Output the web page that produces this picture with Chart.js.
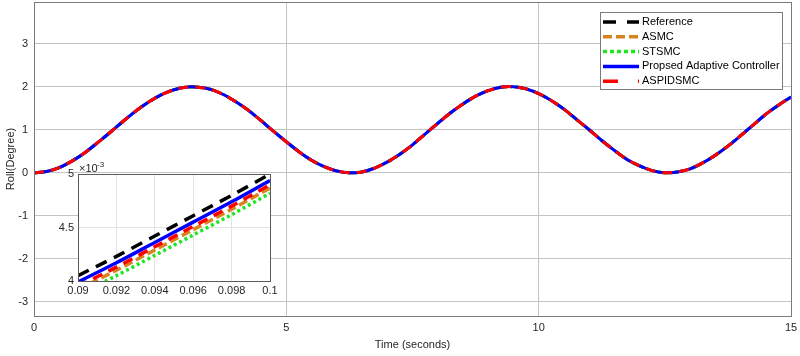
<!DOCTYPE html>
<html>
<head>
<meta charset="utf-8">
<script src="https://cdn.jsdelivr.net/npm/chart.js@4/dist/chart.umd.min.js"></script>
<style>
  body { margin: 0; background: #fff; }
  #wrap { position: relative; width: 800px; height: 356px; }
  #mainChart { position: absolute; left: 0; top: 0; }
  #insetChart { position: absolute; left: 48px; top: 162px; }
</style>
</head>
<body>
<div id="wrap">
  <canvas id="mainChart" width="800" height="356"></canvas>
  <canvas id="insetChart" width="240" height="138"></canvas>
</div>
<script>
// roll angle, every 0.25 s
var time = [0, 0.25, 0.5, 0.75, 1, 1.25, 1.5, 1.75, 2, 2.25, 2.5, 2.75, 3, 3.25, 3.5, 3.75,
    4, 4.25, 4.5, 4.75, 5, 5.25, 5.5, 5.75, 6, 6.25, 6.5, 6.75, 7, 7.25, 7.5, 7.75,
    8, 8.25, 8.5, 8.75, 9, 9.25, 9.5, 9.75, 10, 10.25, 10.5, 10.75, 11, 11.25, 11.5, 11.75,
    12, 12.25, 12.5, 12.75, 13, 13.25, 13.5, 13.75, 14, 14.25, 14.5, 14.75, 15];
var roll = [0, 0.03, 0.12, 0.27, 0.46, 0.69, 0.93, 1.18, 1.42, 1.63, 1.80, 1.92, 1.99, 1.99, 1.94, 1.82,
    1.65, 1.45, 1.21, 0.96, 0.72, 0.49, 0.29, 0.14, 0.04, 0.00, 0.02, 0.11, 0.25, 0.43, 0.65, 0.90,
    1.15, 1.39, 1.60, 1.78, 1.91, 1.99, 2.00, 1.95, 1.84, 1.68, 1.48, 1.24, 1.00, 0.75, 0.52, 0.31,
    0.16, 0.05, 0.00, 0.02, 0.09, 0.23, 0.41, 0.62, 0.86, 1.11, 1.36, 1.57, 1.76];

// zoomed window 0.09 .. 0.1 s, values in units of 1e-3 degree
var zoomTime = [0.09, 0.092, 0.094, 0.096, 0.098, 0.1];
var zoomRef = [4.05, 4.23, 4.42, 4.61, 4.80, 5.00];
var zoomASMC = [3.92, 4.10, 4.29, 4.48, 4.67, 4.87];
var zoomSTSMC = [3.87, 4.05, 4.24, 4.43, 4.62, 4.82];
var zoomProposed = [3.99, 4.17, 4.36, 4.55, 4.74, 4.94];
var zoomASPID = [3.95, 4.13, 4.32, 4.51, 4.70, 4.90];

var mainYTicks = [-3, -2, -1, 0, 1, 2, 3];
var zoomXTicks = [0.09, 0.092, 0.094, 0.096, 0.098, 0.1];
var zoomYTicks = [4, 4.5, 5];

var names = ['Reference', 'ASMC', 'STSMC', 'Propsed Adaptive Controller', 'ASPIDSMC'];
var colors = ['#000000', '#d9831f', '#1ee61e', '#0000ff', '#ff0000'];
var dashes = [[12, 8], [9, 4], [3, 3], [], [10, 7]];
var drawOrder = [4, 3, 2, 1, 0];

var font = { family: '"Liberation Sans", Arial, sans-serif', size: 11 };
var textColor = '#262626';

function pts(xs, ys) {
    return xs.map(function (x, i) { return { x: x, y: ys[i] }; });
}

function makeSets(series, xs, width) {
    return series.map(function (ys, i) {
        return {
            label: names[i],
            data: pts(xs, ys),
            borderColor: colors[i],
            borderWidth: width,
            borderDash: dashes[i],
            pointRadius: 0,
            tension: 0.3,
            fill: false,
            order: drawOrder[i]
        };
    });
}

function noPad(s) {
    s.paddingTop = 0; s.paddingBottom = 0; s.paddingLeft = 0; s.paddingRight = 0;
}

var whiteArea = {
    id: 'whiteArea',
    beforeDraw: function (chart) {
        var a = chart.chartArea, c = chart.ctx;
        c.save();
        c.fillStyle = '#fff';
        c.fillRect(a.left, a.top, a.right - a.left, a.bottom - a.top);
        c.restore();
    }
};

var boxLegend = {
    id: 'boxLegend',
    afterDraw: function (chart) {
        var c = chart.ctx;
        c.save();
        c.fillStyle = '#fff';
        c.fillRect(600, 12, 182, 77);
        c.strokeStyle = '#7a7a7a';
        c.lineWidth = 1;
        c.strokeRect(600.5, 12.5, 182, 77);
        var legDash = [[13, 11], [9, 4], [4, 3], [], [15, 20]];
        for (var i = 0; i < names.length; i++) {
            var y = 22 + i * 14.8;
            c.strokeStyle = colors[i];
            c.lineWidth = 3.5;
            c.setLineDash(legDash[i]);
            c.beginPath();
            c.moveTo(603, y);
            c.lineTo(639, y);
            c.stroke();
            c.setLineDash([]);
            c.fillStyle = '#000';
            c.font = '11px "Liberation Sans", Arial, sans-serif';
            c.textBaseline = 'middle';
            c.fillText(names[i], 642, y);
        }
        c.restore();
    }
};

new Chart(document.getElementById('mainChart'), {
    type: 'line',
    data: { datasets: makeSets([roll, roll, roll, roll, roll], time, 3) },
    options: {
        responsive: false,
        animation: false,
        layout: { padding: { top: 2, right: 9, left: 0, bottom: 0 } },
        plugins: { legend: { display: false }, tooltip: { enabled: false } },
        scales: {
            x: {
                type: 'linear', min: 0, max: 15,
                ticks: { stepSize: 5, font: font, color: textColor, padding: 5 },
                grid: { color: '#c4c4c4', drawTicks: false },
                border: { color: '#7a7a7a' },
                title: { display: true, text: 'Time (seconds)', font: font, color: textColor, padding: { top: 2, bottom: 4 } },
                afterFit: function (s) { s.height = 40; noPad(s); }
            },
            y: {
                min: -3.33, max: 3.97,
                afterBuildTicks: function (s) { s.ticks = mainYTicks.map(function (v) { return { value: v }; }); },
                ticks: { font: font, color: textColor, padding: 6 },
                grid: { color: '#c4c4c4', drawTicks: false },
                border: { color: '#7a7a7a' },
                title: { display: true, text: 'Roll(Degree)', font: font, color: textColor, padding: { top: 4, bottom: 4 } },
                afterFit: function (s) { s.width = 34; noPad(s); }
            }
        }
    },
    plugins: [whiteArea, boxLegend, {
        id: 'frame',
        afterDraw: function (chart) {
            var a = chart.chartArea, c = chart.ctx;
            c.save();
            c.strokeStyle = '#7a7a7a';
            c.lineWidth = 1;
            c.strokeRect(Math.round(a.left) + 0.5, Math.round(a.top) + 0.5, Math.round(a.right - a.left), Math.round(a.bottom - a.top));
            c.restore();
        }
    }]
});

new Chart(document.getElementById('insetChart'), {
    type: 'line',
    data: { datasets: makeSets([zoomRef, zoomASMC, zoomSTSMC, zoomProposed, zoomASPID], zoomTime, 3.5) },
    options: {
        responsive: false,
        animation: false,
        layout: { padding: { top: 12, right: 18, left: 0, bottom: 0 } },
        plugins: { legend: { display: false }, tooltip: { enabled: false } },
        scales: {
            x: {
                type: 'linear', min: 0.09, max: 0.1,
                afterBuildTicks: function (s) { s.ticks = zoomXTicks.map(function (v) { return { value: v }; }); },
                ticks: {
                    font: font, color: textColor, padding: 3, maxRotation: 0, autoSkip: false,
                    callback: function (v) { return String(+v.toFixed(3)); }
                },
                grid: { color: '#e3e3e3', drawTicks: false },
                border: { color: '#5a5a5a' },
                afterFit: function (s) { s.height = 19; noPad(s); }
            },
            y: {
                min: 4, max: 5,
                afterBuildTicks: function (s) { s.ticks = zoomYTicks.map(function (v) { return { value: v }; }); },
                ticks: {
                    font: font, color: textColor, padding: 4,
                    callback: function (v) { return String(+v.toFixed(1)); }
                },
                grid: { color: '#e3e3e3', drawTicks: false },
                border: { color: '#5a5a5a' },
                afterFit: function (s) { s.width = 30; noPad(s); }
            }
        }
    },
    plugins: [whiteArea, {
        id: 'insetExtras',
        afterDraw: function (chart) {
            var a = chart.chartArea, c = chart.ctx;
            c.save();
            c.strokeStyle = '#5a5a5a';
            c.lineWidth = 1;
            c.strokeRect(Math.round(a.left) + 0.5, Math.round(a.top) + 0.5, Math.round(a.right - a.left), Math.round(a.bottom - a.top));
            c.fillStyle = textColor;
            c.textBaseline = 'alphabetic';
            c.font = '11px "Liberation Sans", Arial, sans-serif';
            c.fillText('\u00d710', a.left + 1, a.top - 2);
            c.font = '8px "Liberation Sans", Arial, sans-serif';
            c.fillText('-3', a.left + 19, a.top - 7);
            c.restore();
        }
    }]
});
</script>
</body>
</html>
